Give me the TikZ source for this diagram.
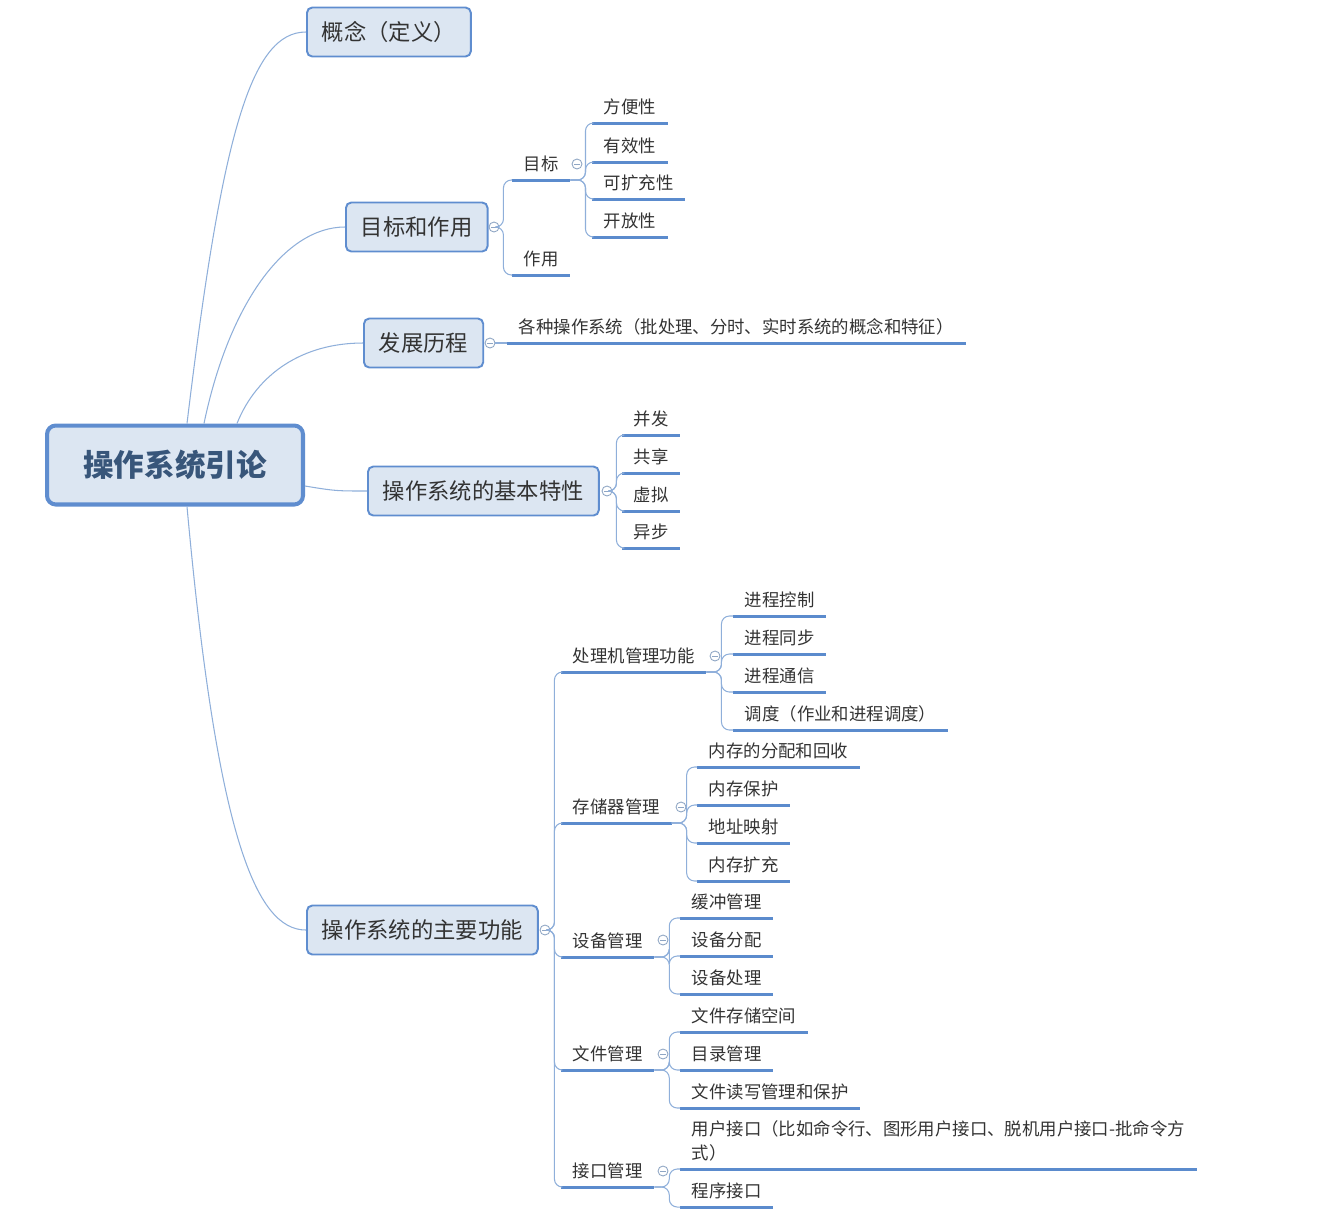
\documentclass[tikz,border=0pt]{standalone}
\usepackage{fontspec}
\setmainfont{Noto Sans CJK SC}
\usepackage{xcolor}
\usepackage{tikz}

\definecolor{boxfill}{HTML}{DCE6F2}
\definecolor{boxline}{HTML}{5F8DCF}
\definecolor{linkblue}{HTML}{8FAFDA}
\definecolor{ulblue}{HTML}{5B8BCD}
\definecolor{foldgray}{HTML}{8FA6C4}
\definecolor{txtgray}{HTML}{333333}
\definecolor{roottxt}{HTML}{38567A}

\begin{document}
\begin{tikzpicture}[x=0.02cm, y=-0.02cm,
    rootbox/.style={draw=boxline, line width=2.3pt, fill=boxfill, rounded corners=5pt, minimum width=5.12cm, minimum height=1.58cm, font=\fontsize{17.4}{20}\selectfont\bfseries, text=roottxt},
    topic/.style={draw=boxline, line width=1.1pt, fill=boxfill, rounded corners=3pt, minimum height=0.98cm, inner xsep=0.3cm, anchor=west, font=\fontsize{12.7}{15}\selectfont, text=txtgray},
    uline/.style={draw=ulblue, line width=1.7pt},
    item/.style={anchor=south west, inner xsep=0.23cm, inner ysep=0.15cm, font=\fontsize{9.9}{13.7}\selectfont, text=txtgray,
        append after command={(\tikzlastnode.south west) edge[uline] (\tikzlastnode.south east)}},
    link/.style={draw=linkblue, line width=0.6pt, rounded corners=4.5pt},
    fold/.style={circle, draw=foldgray, fill=white, line width=0.5pt, minimum size=0.2cm, inner sep=0pt,
        path picture={\draw[foldgray, line width=0.5pt] ([xshift=1.4pt]path picture bounding box.west) -- ([xshift=-1.4pt]path picture bounding box.east);}}
]
\useasboundingbox (0,0) rectangle (1317,1218);

\node[rootbox] (root) at (175,465) {操作系统引论};
\node[topic] (concept) at (306,32) {概念（定义）};
\node[topic] (goal) at (345,227) {目标和作用};
\node[topic] (hist) at (363,343) {发展历程};
\node[topic] (feat) at (367,491) {操作系统的基本特性};
\node[topic] (func) at (306,930) {操作系统的主要功能};

\node[fold] (goalfold) at (494,227) {};
\node[fold] (histfold) at (490,343) {};
\node[fold] (featfold) at (607,491) {};
\node[fold] (funcfold) at (545,930) {};
\node[fold] (aimfold) at (577,164) {};
\node[fold] (cpufold) at (715,656) {};
\node[fold] (memfold) at (681,807) {};
\node[fold] (devfold) at (663,940) {};
\node[fold] (filefold) at (663,1054) {};
\node[fold] (ioifold) at (663,1171) {};

\node[item] (aim) at (512,180) {目标};
\node[item] (role) at (512,275) {作用};
\node[item] (conv) at (592,123) {方便性};
\node[item] (effi) at (592,162) {有效性};
\node[item] (scal) at (592,199) {可扩充性};
\node[item] (open) at (592,237) {开放性};

\node[item] (histleaf) at (507,343) {各种操作系统（批处理、分时、实时系统的概念和特征）};

\node[item] (conc) at (622,435) {并发};
\node[item] (share) at (622,473) {共享};
\node[item] (virt) at (622,511) {虚拟};
\node[item] (async) at (622,548) {异步};

\node[item] (cpu) at (561,672) {处理机管理功能};
\node[item] (mem) at (561,823) {存储器管理};
\node[item] (dev) at (561,957) {设备管理};
\node[item] (file) at (561,1070) {文件管理};
\node[item] (ioi) at (561,1187) {接口管理};

\node[item] (pctl) at (733,616) {进程控制};
\node[item] (psync) at (733,654) {进程同步};
\node[item] (pcomm) at (733,692) {进程通信};
\node[item] (sched) at (733,730) {调度（作业和进程调度）};

\node[item] (alloc) at (697,767) {内存的分配和回收};
\node[item] (prot) at (697,805) {内存保护};
\node[item] (amap) at (697,843) {地址映射};
\node[item] (mext) at (697,881) {内存扩充};

\node[item] (buf) at (680,918) {缓冲管理};
\node[item] (dalloc) at (680,956) {设备分配};
\node[item] (dproc) at (680,994) {设备处理};

\node[item] (fspace) at (680,1032) {文件存储空间};
\node[item] (fdir) at (680,1070) {目录管理};
\node[item] (frw) at (680,1108) {文件读写管理和保护};

\node[item, align=left] (uif) at (680,1169) {用户接口（比如命令行、图形用户接口、脱机用户接口-批命令方\\式）};
\node[item] (pif) at (680,1207) {程序接口};

\draw[link] ([xshift=0.24cm]root.north) .. controls +(35,-290) and +(-55,0) .. (concept.west);
\draw[link] ([xshift=0.58cm]root.north) .. controls +(25,-120) and +(-60,0) .. (goal.west);
\draw[link] ([xshift=1.24cm]root.north) .. controls +(20,-50) and +(-60,0) .. (hist.west);
\draw[link] ([yshift=-0.42cm]root.east) .. controls +(30,5) and +(-30,0) .. (feat.west);
\draw[link] ([xshift=0.24cm]root.south) .. controls +(30,330) and +(-50,0) .. (func.west);

\draw[link] (goalfold.east) -- ++(4,0) |- (aim.south west);
\draw[link] (goalfold.east) -- ++(4,0) |- (role.south west);
\draw[link] (aim.south east) -- ++(15,0) |- (conv.south west);
\draw[link] (aim.south east) -- ++(15,0) |- (effi.south west);
\draw[link] (aim.south east) -- ++(15,0) |- (scal.south west);
\draw[link] (aim.south east) -- ++(15,0) |- (open.south west);

\draw[link] (histfold.east) -- (histleaf.south west);

\draw[link] (featfold.east) -- ++(4,0) |- (conc.south west);
\draw[link] (featfold.east) -- ++(4,0) |- (share.south west);
\draw[link] (featfold.east) -- ++(4,0) |- (virt.south west);
\draw[link] (featfold.east) -- ++(4,0) |- (async.south west);

\draw[link] (funcfold.east) -- ++(4,0) |- (cpu.south west);
\draw[link] (funcfold.east) -- ++(4,0) |- (mem.south west);
\draw[link] (funcfold.east) -- ++(4,0) |- (dev.south west);
\draw[link] (funcfold.east) -- ++(4,0) |- (file.south west);
\draw[link] (funcfold.east) -- ++(4,0) |- (ioi.south west);

\draw[link] (cpu.south east) -- ++(15,0) |- (pctl.south west);
\draw[link] (cpu.south east) -- ++(15,0) |- (psync.south west);
\draw[link] (cpu.south east) -- ++(15,0) |- (pcomm.south west);
\draw[link] (cpu.south east) -- ++(15,0) |- (sched.south west);

\draw[link] (mem.south east) -- ++(15,0) |- (alloc.south west);
\draw[link] (mem.south east) -- ++(15,0) |- (prot.south west);
\draw[link] (mem.south east) -- ++(15,0) |- (amap.south west);
\draw[link] (mem.south east) -- ++(15,0) |- (mext.south west);

\draw[link] (dev.south east) -- ++(15,0) |- (buf.south west);
\draw[link] (dev.south east) -- ++(15,0) |- (dalloc.south west);
\draw[link] (dev.south east) -- ++(15,0) |- (dproc.south west);

\draw[link] (file.south east) -- ++(15,0) |- (fspace.south west);
\draw[link] (file.south east) -- ++(15,0) |- (fdir.south west);
\draw[link] (file.south east) -- ++(15,0) |- (frw.south west);

\draw[link] (ioi.south east) -- ++(15,0) |- (uif.south west);
\draw[link] (ioi.south east) -- ++(15,0) |- (pif.south west);
\end{tikzpicture}
\end{document}
